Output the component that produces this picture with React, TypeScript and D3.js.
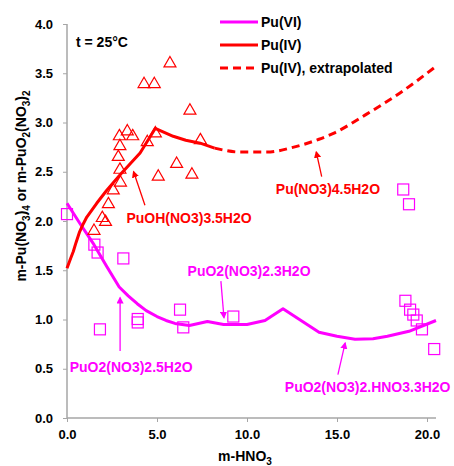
import * as d3 from 'd3';
import { useEffect, useRef } from 'react';

const MAGENTA = '#ff00ff';
const RED = '#ff0000';
const AXIS = '#a6a6a6';
const FONT = '"Liberation Sans", Arial, sans-serif';

// Pu(VI) solubility curve
const pu6CurveX = [0, 0.7, 1.5, 2.2, 2.9, 3.4, 3.9, 4.4, 5, 5.5, 6, 6.8, 7.8, 8.7, 10, 11, 12, 14, 15, 16, 17, 17.8, 19, 20.5];
const pu6CurveY = [2.18, 1.98, 1.76, 1.54, 1.33, 1.24, 1.16, 1.09, 1.03, 0.99, 0.96, 0.94, 0.98, 0.95, 0.95, 0.99, 1.11, 0.87, 0.83, 0.8, 0.805, 0.83, 0.88, 0.99];

// Pu(IV) solubility curve (solid part)
const pu4CurveX = [0, 0.2, 0.35, 0.5, 0.7, 0.9, 1.1, 1.65, 2.2, 3.0, 4.06, 4.9, 5.9, 6.6, 7.4, 8.2];
const pu4CurveY = [1.52, 1.62, 1.69, 1.78, 1.89, 1.97, 2.04, 2.18, 2.31, 2.48, 2.69, 2.94, 2.86, 2.82, 2.79, 2.74];

// Pu(IV) extrapolated
const pu4ExtX = [8.2, 9.6, 11.1, 12.6, 14, 14.8, 16.6, 18.5, 20.5];
const pu4ExtY = [2.74, 2.7, 2.7, 2.75, 2.83, 2.89, 3.08, 3.3, 3.57];

// Pu(VI) measured points (squares)
const pu6PointsX = [0, 1.52, 1.7, 3.13, 1.83, 3.93, 3.93, 6.28, 6.46, 9.24, 18.68, 19.0, 18.8, 19.06, 19.24, 19.43, 19.72, 20.4];
const pu6PointsY = [2.07, 1.76, 1.68, 1.62, 0.9, 1.005, 0.97, 1.1, 0.92, 1.03, 2.32, 2.17, 1.19, 1.1, 1.05, 0.99, 0.9, 0.7];

// Pu(IV) measured points (triangles)
const pu4PointsX = [5.72, 4.28, 4.85, 6.83, 2.91, 3.35, 3.65, 2.94, 2.85, 2.94, 2.97, 2.57, 2.3, 1.96, 2.14, 1.5, 4.46, 4.91, 7.41, 6.09, 6.94, 5.07];
const pu4PointsY = [3.61, 3.4, 3.4, 3.13, 2.87, 2.92, 2.87, 2.77, 2.66, 2.53, 2.4, 2.32, 2.18, 2.04, 2.0, 1.91, 2.81, 2.9, 2.83, 2.59, 2.48, 2.46];

const xTicks = [0, 5, 10, 15, 20];
const yTicks = [0, 0.5, 1, 1.5, 2, 2.5, 3, 3.5, 4];

const legendLabels = ['Pu(VI)', 'Pu(IV)', 'Pu(IV), extrapolated'];

// annotations: label, colour, text anchor x/y, arrow from (x,y) to (x,y) in data units
const annLabels = ['Pu(NO3)4.5H2O', 'PuOH(NO3)3.5H2O', 'PuO2(NO3)2.3H2O', 'PuO2(NO3)2.5H2O', 'PuO2(NO3)2.HNO3.3H2O'];
const annColors = [RED, RED, MAGENTA, MAGENTA, MAGENTA];
const annTextX = [11.6, 3.3, 6.7, 0.15, 12.1];
const annTextY = [2.27, 1.98, 1.44, 0.47, 0.26];
const annFromX = [14.15, 4.33, 8.55, 2.95, 15.05];
const annFromY = [2.45, 2.16, 1.39, 0.68, 0.44];
const annToX = [13.85, 3.7, 8.72, 2.95, 15.45];
const annToY = [2.7, 2.5, 1.02, 1.22, 0.76];

export default function App() {
    const ref = useRef<any>();

    useEffect(() => {
        const width = 454;
        const height = 466;
        const svg = d3.select<any, any>(ref.current);
        svg.selectAll('*').remove();
        svg.attr('width', width).attr('height', height);

        const x = d3.scaleLinear().domain([0, 20.5]).range([67, 436]);
        const y = d3.scaleLinear().domain([0, 4]).range([418, 24]);

        const defs = svg.append('defs');
        annColors.forEach((c, i) => {
            defs.append('marker')
                .attr('id', `ah${i}`)
                .attr('viewBox', '0 0 10 10')
                .attr('refX', 8).attr('refY', 5)
                .attr('markerWidth', 5.5).attr('markerHeight', 5.5)
                .attr('orient', 'auto')
                .append('path').attr('d', 'M0,0 L10,5 L0,10 z').attr('fill', c);
        });

        // y axis
        const yAxis = svg.append('g').attr('transform', `translate(${x(0)},0)`)
            .call(d3.axisLeft(y).tickValues(yTicks).tickSize(4).tickPadding(10).tickFormat(d3.format('.1f')));
        // x axis
        const xAxis = svg.append('g').attr('transform', `translate(0,${y(0)})`)
            .call(d3.axisBottom(x).tickValues(xTicks).tickSize(4).tickPadding(8).tickFormat(d3.format('.1f')));
        [xAxis, yAxis].forEach((a) => {
            a.select('.domain').attr('stroke', AXIS).attr('stroke-width', 1.5);
            a.selectAll('.tick line').attr('stroke', AXIS);
            a.selectAll('.tick text').attr('fill', '#000').style('font-family', FONT)
                .style('font-size', '13px').style('font-weight', 'bold');
        });
        xAxis.select('.domain').attr('d', `M${x(0)},0H${x(20.5)}`);
        yAxis.select('.domain').attr('d', `M0,${y(4)}V${y(0)}`);

        const drawCurve = (xs: number[], ys: number[], color: string, curve: any, dash?: string) => {
            const pts: any = xs.map((v, i) => [x(v), y(ys[i])]);
            const line = d3.line<number>().curve(curve);
            const p = svg.append('path').attr('d', line(pts) as string)
                .attr('fill', 'none').attr('stroke', color).attr('stroke-width', 3)
                .attr('stroke-linejoin', 'round');
            if (dash) p.attr('stroke-dasharray', dash);
        };

        drawCurve(pu6CurveX, pu6CurveY, MAGENTA, d3.curveLinear);
        drawCurve(pu4CurveX, pu4CurveY, RED, d3.curveLinear);
        drawCurve(pu4ExtX, pu4ExtY, RED, d3.curveMonotoneX, '8,5');

        // squares
        svg.append('g').selectAll('rect').data(pu6PointsX).join('rect')
            .attr('x', (d, i) => x(d) - 5.5).attr('y', (d, i) => y(pu6PointsY[i]) - 5.5)
            .attr('width', 11).attr('height', 11)
            .attr('fill', 'none').attr('stroke', MAGENTA).attr('stroke-width', 1.2);

        // triangles
        const tri = d3.symbol().type(d3.symbolTriangle).size(62);
        svg.append('g').selectAll('path').data(pu4PointsX).join('path')
            .attr('d', tri() as string)
            .attr('transform', (d, i) => `translate(${x(d)},${y(pu4PointsY[i]) + 1})`)
            .attr('fill', 'none').attr('stroke', RED).attr('stroke-width', 1.2);

        // annotations
        annLabels.forEach((lab, i) => {
            svg.append('line')
                .attr('x1', x(annFromX[i])).attr('y1', y(annFromY[i]))
                .attr('x2', x(annToX[i])).attr('y2', y(annToY[i]))
                .attr('stroke', annColors[i]).attr('stroke-width', 1.3)
                .attr('marker-end', `url(#ah${i})`);
            svg.append('text').attr('x', x(annTextX[i])).attr('y', y(annTextY[i]))
                .attr('fill', annColors[i]).style('font-family', FONT)
                .style('font-size', '14px').style('font-weight', 'bold').text(lab);
        });

        // temperature
        svg.append('text').attr('x', 76).attr('y', 47).style('font-family', FONT)
            .style('font-size', '14px').style('font-weight', 'bold').text('t = 25°C');

        // legend
        const legendColors = [MAGENTA, RED, RED];
        legendLabels.forEach((lab, i) => {
            const ly = 22 + i * 23;
            const l = svg.append('line').attr('x1', 220).attr('x2', 258).attr('y1', ly).attr('y2', ly)
                .attr('stroke', legendColors[i]).attr('stroke-width', 3);
            if (i === 2) l.attr('stroke-dasharray', '8,5');
            svg.append('text').attr('x', 261).attr('y', ly + 5).style('font-family', FONT)
                .style('font-size', '14px').style('font-weight', 'bold').text(lab);
        });

        // x title
        const xt = svg.append('text').attr('x', 245).attr('y', 461).attr('text-anchor', 'middle')
            .style('font-family', FONT).style('font-size', '14px').style('font-weight', 'bold');
        xt.append('tspan').text('m-HNO');
        xt.append('tspan').attr('dy', 4).style('font-size', '10px').text('3');

        // y title
        const yt = svg.append('text').attr('transform', 'translate(26,186) rotate(-90)')
            .attr('text-anchor', 'middle')
            .style('font-family', FONT).style('font-size', '14px').style('font-weight', 'bold');
        const parts: [string, boolean][] = [['m-Pu(NO', false], ['3', true], [')', false], ['4', true],
            [' or m-PuO', false], ['2', true], ['(NO', false], ['3', true], [')', false], ['2', true]];
        let sub = false;
        parts.forEach(([t, s]) => {
            const ts = yt.append('tspan').text(t);
            if (s && !sub) ts.attr('dy', 4).style('font-size', '10px');
            else if (s && sub) ts.style('font-size', '10px');
            else if (!s && sub) ts.attr('dy', -4);
            sub = s;
        });
    });

    return (
        <div>
            <svg ref={ref} style={{ position: 'absolute', left: 0, top: 0 }}></svg>
        </div>
    );
}
